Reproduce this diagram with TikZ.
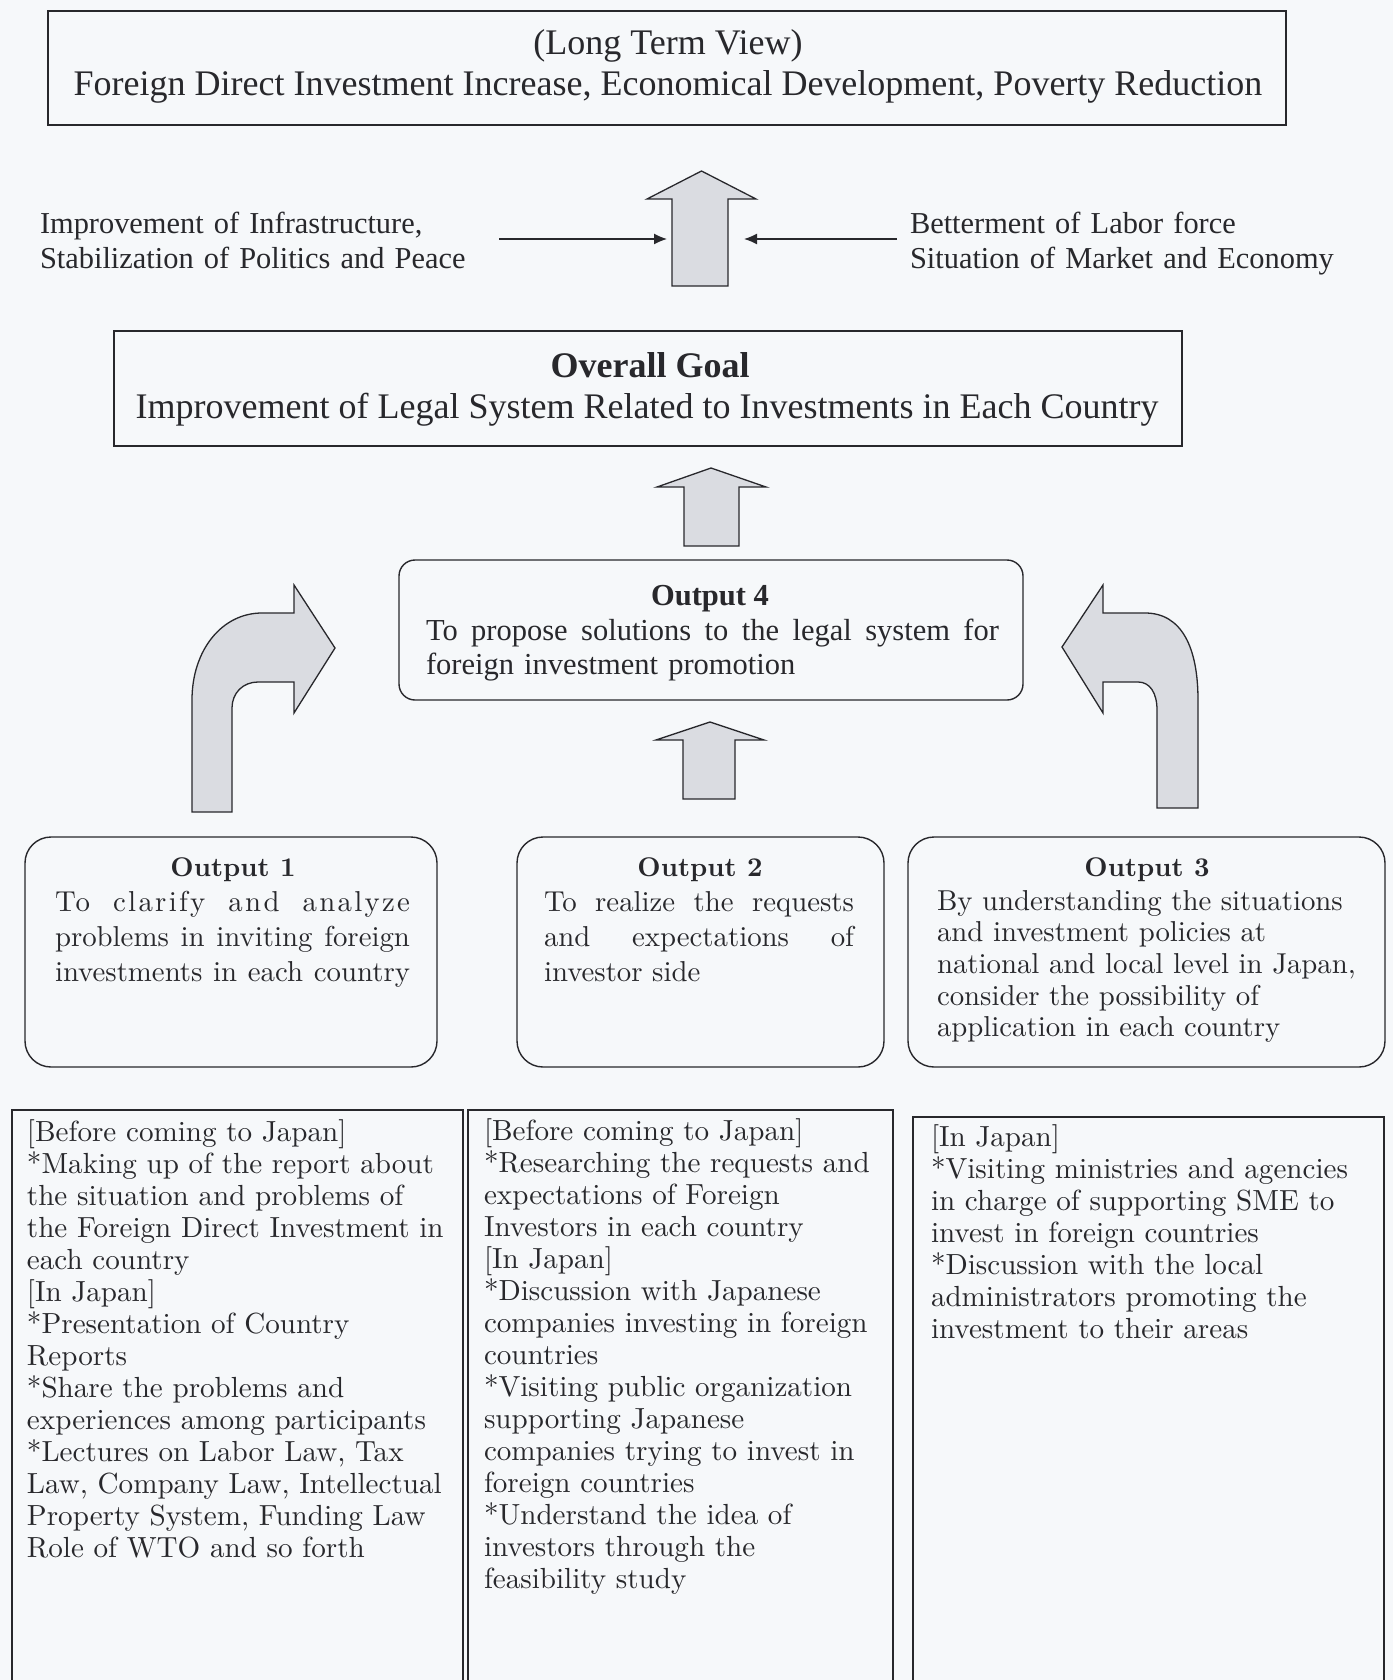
\documentclass[tikz,border=0pt]{standalone}
\usepackage{fontspec}
\newfontfamily\tms{Liberation Serif}
\newfontfamily\cent[Extension=.otf, UprightFont=*-regular, BoldFont=*-bold]{lmroman10}
\usetikzlibrary{arrows.meta}
\definecolor{bg}{RGB}{246,248,250}
\definecolor{ink}{RGB}{40,40,44}
\definecolor{afill}{RGB}{218,220,225}
\newcommand\spreadline[2]{\makebox[#1][s]{\spaceskip=0.3333em plus 1fill\relax #2}}
\begin{document}
\begin{tikzpicture}[x=1pt,y=-1pt,
  every node/.style={inner sep=0pt, outer sep=0pt, text=ink},
  sqbox/.style={draw=ink, line width=1.6pt, anchor=north west},
  rbox/.style={draw=ink, line width=1.4pt, anchor=north west, rounded corners=26pt},
  obox/.style={draw=ink, line width=1.4pt, anchor=north west, rounded corners=16pt},
  blockarrow/.style={draw=ink, line width=1.3pt, fill=afill, line join=miter},
  thinarrow/.style={draw=ink, line width=1.3pt, -{Latex[length=13pt,width=11pt]}},
  tmsA/.style={font=\tms\fontsize{36}{40}\selectfont},
  tmsAb/.style={font=\tms\fontsize{36}{40}\selectfont\bfseries},
  tmsB/.style={font=\tms\fontsize{30.4}{35}\selectfont},
  tmsC/.style={font=\tms\fontsize{30.5}{33}\selectfont},
  tmsCb/.style={font=\tms\fontsize{30.5}{33}\selectfont\bfseries},
  lmA/.style={font=\cent\fontsize{29.1}{32}\selectfont},
  lmO/.style={font=\cent\fontsize{28.8}{35}\selectfont},
  lmT/.style={font=\cent\fontsize{27}{32}\selectfont\bfseries},
  txt/.style={anchor=base west, align=left}
]
\fill[bg] (0,0) rectangle (1393,1680);
\useasboundingbox (0,0) rectangle (1393,1680);

% ---------- long term view ----------
\node[sqbox, minimum width=1238, minimum height=114] (ltvbox) at (48,11) {};
\node[tmsA, anchor=base] (ltv1) at (668,55) {(Long Term View)};
\node[tmsA, anchor=base] (ltv2) at (668,96) {Foreign Direct Investment Increase, Economical Development, Poverty Reduction};

% ---------- top block arrow and side factors ----------
\draw[blockarrow] (672,286) -- (672,199) -- (647,199) -- (701.5,171) -- (756,199) -- (728,199) -- (728,286) -- cycle;
\node[minimum width=56, minimum height=87, anchor=north west] (bigshaft) at (672,199) {};
\node[tmsB, txt, text width=540] (leftlab) at (40,234) {Improvement of Infrastructure,\\Stabilization of Politics and Peace};
\node[tmsB, txt, text width=470] (rightlab) at (910,234) {Betterment of Labor force\\Situation of Market and Economy};
\coordinate (lstart) at (499,239);
\coordinate (rstart) at (897,239);
\draw[thinarrow, shorten >=5pt] (lstart) -- (lstart -| bigshaft.west);
\draw[thinarrow, shorten >=16pt] (rstart) -- (rstart -| bigshaft.east);

% ---------- overall goal ----------
\node[sqbox, minimum width=1068, minimum height=115] (goal) at (114,331) {};
\node[tmsAb, anchor=base] (goalt) at (650,377) {Overall Goal};
\node[tmsA, anchor=base] (goall) at (647,418) {Improvement of Legal System Related to Investments in Each Country};

% arrow output4 -> goal
\draw[blockarrow] (684,546) -- (684,487) -- (657,487) -- (711,468) -- (766,487) -- (739,487) -- (739,546) -- cycle;

% ---------- output 4 ----------
\node[obox, minimum width=624, minimum height=140] (out4) at (399,560) {};
\node[tmsCb, anchor=base] (out4t) at (710,605) {Output 4};
\node[tmsC, txt, text width=590] (out4l) at (426,640) {\spreadline{573pt}{To propose solutions to the legal system for}\\[1.5pt]foreign investment promotion};

% arrow output2 -> output4
\draw[blockarrow] (683,799) -- (683,740) -- (656,740) -- (710,722) -- (764,740) -- (735,740) -- (735,799) -- cycle;

% curved arrow left (output1 -> output4)
\draw[blockarrow] (192,812) -- (192,700) .. controls (192,650) and (222,613) .. (262,613) -- (294,613) -- (294,585) -- (335,648) -- (294,713) -- (294,682) -- (258,682) .. controls (243,682) and (232,693) .. (232,708) -- (232,812) -- cycle;
% curved arrow right (output3 -> output4)
\draw[blockarrow] (1198,808) -- (1198,700) .. controls (1198,648) and (1182,613) .. (1145,613) -- (1103,613) -- (1103,585) -- (1062,647) -- (1103,713) -- (1103,682) -- (1138,682) .. controls (1150,682) and (1157,693) .. (1157,710) -- (1157,808) -- cycle;

% ---------- outputs 1-3 ----------
\node[rbox, minimum width=412, minimum height=230] (out1) at (25,837) {};
\node[lmT, anchor=base] (out1t) at (233,876) {Output 1};
\node[lmO, txt, text width=362] (out1l) at (55,911) {\spreadline{355pt}{\addfontfeature{LetterSpace=8}To clarify and analyze}\\\spreadline{355pt}{problems in inviting foreign}\\\spreadline{355pt}{investments in each country}};

\node[rbox, minimum width=367, minimum height=230] (out2) at (517,837) {};
\node[lmT, anchor=base] (out2t) at (700,876) {Output 2};
\node[lmO, txt, text width=320] (out2l) at (544,911) {\spreadline{310pt}{To realize the requests}\\\spreadline{310pt}{and expectations of}\\investor side};

\node[rbox, minimum width=477, minimum height=230] (out3) at (908,837) {};
\node[lmT, anchor=base] (out3t) at (1147,876) {Output 3};
\node[font=\cent\fontsize{28.8}{31.7}\selectfont, txt, text width=450] (out3l) at (937,910) {By understanding the situations\\and investment policies at\\national and local level in Japan,\\consider the possibility of\\application in each country};

% ---------- activity boxes ----------
\node[sqbox, minimum width=451, minimum height=620] (act1) at (12,1110) {};
\node[lmA, txt, text width=440] (act1t) at (27,1141) {[Before coming to Japan]\\{*}Making up of the report about\\the situation and problems of\\the Foreign Direct Investment in\\each country\\{[In Japan]}\\{*}Presentation of Country\\Reports\\{*}Share the problems and\\experiences among participants\\{*}Lectures on Labor Law, Tax\\Law, Company Law, Intellectual\\Property System, Funding Law\\Role of WTO and so forth};

\node[sqbox, minimum width=425, minimum height=620] (act2) at (468,1110) {};
\node[lmA, txt, text width=420] (act2t) at (484,1140) {[Before coming to Japan]\\{*}Researching the requests and\\expectations of Foreign\\Investors in each country\\{[In Japan]}\\{*}Discussion with Japanese\\companies investing in foreign\\countries\\{*}Visiting public organization\\supporting Japanese\\companies trying to invest in\\foreign countries\\{*}Understand the idea of\\investors through the\\feasibility study};

\node[sqbox, minimum width=471, minimum height=620] (act3) at (913,1117) {};
\node[lmA, txt, text width=460] (act3t) at (931,1146) {[In Japan]\\{*}Visiting ministries and agencies\\in charge of supporting SME to\\invest in foreign countries\\{*}Discussion with the local\\administrators promoting the\\investment to their areas};
\end{tikzpicture}
\end{document}
